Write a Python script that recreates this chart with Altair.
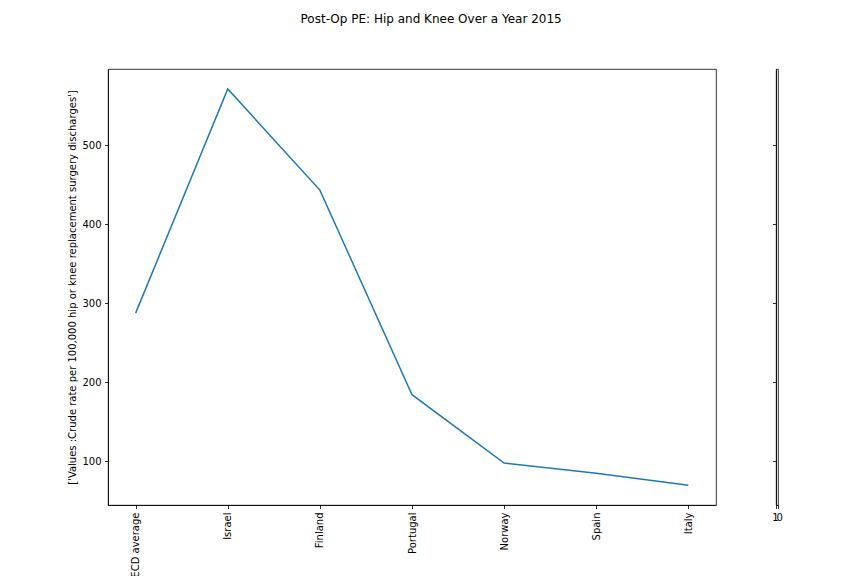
import altair as alt
import pandas as pd

countries = ["OECD average", "Israel", "Finland", "Portugal", "Norway", "Spain", "Italy"]
values = [287.3, 571.0, 443.0, 184.0, 97.5, 84.5, 69.5]
y_ticks = [100, 200, 300, 400, 500]
y_domain = [44.4, 596.3]
side_x_ticks = [0, 1]

df = pd.DataFrame({"country": countries, "value": values})
side = pd.DataFrame({"x": side_x_ticks, "y": y_domain})

FONT = "DejaVu Sans"
ytitle = "['Values :Crude rate per 100,000 hip or knee replacement surgery discharges']"

main = alt.Chart(df).mark_line(color="#1f77b4", strokeWidth=1.5).encode(
    x=alt.X("country:N", sort=None, title=None,
            scale=alt.Scale(type="point", padding=0.3),
            axis=alt.Axis(labelAngle=270, labelFontSize=10, labelColor="#000",
                          tickSize=3.5, tickColor="#000", tickWidth=0.8,
                          domainColor="#000", domainWidth=0.8, labelPadding=3.5,
                          grid=False)),
    y=alt.Y("value:Q", title=ytitle,
            scale=alt.Scale(domain=y_domain, nice=False, zero=False),
            axis=alt.Axis(values=y_ticks, labelFontSize=10, labelColor="#000",
                          tickSize=3.5, tickColor="#000", tickWidth=0.8,
                          domainColor="#000", domainWidth=0.8, labelPadding=3.5,
                          titleFontSize=10, titleFontWeight="normal", titleColor="#000",
                          titlePadding=4, grid=False)),
).properties(width=608, height=436)

side_chart = alt.Chart(side).mark_point(opacity=0).encode(
    x=alt.X("x:Q", title=None,
            scale=alt.Scale(domain=[0, 1], nice=False),
            axis=alt.Axis(values=side_x_ticks, format="d", labelAngle=0, labelOverlap=False,
                          labelFontSize=10, labelColor="#000", tickSize=3.5,
                          tickColor="#000", tickWidth=0.8, domainColor="#000",
                          domainWidth=0.8, labelPadding=3.5, grid=False)),
    y=alt.Y("y:Q", title=None,
            scale=alt.Scale(domain=y_domain, nice=False, zero=False),
            axis=alt.Axis(values=y_ticks, labels=False, tickSize=3.5, tickColor="#000",
                          tickWidth=0.8, domainColor="#000", domainWidth=0.8, grid=False)),
).properties(width=2, height=436)

chart = alt.hconcat(main, side_chart, spacing=54).properties(
    title=alt.TitleParams("Post-Op PE: Hip and Knee Over a Year 2015", fontSize=12,
                          fontWeight="normal", color="#000", font=FONT,
                          anchor="middle", offset=40, dx=6),
    padding={"left": 59, "top": 4, "right": 10, "bottom": 0},
).configure(font=FONT).configure_view(stroke="#000", strokeWidth=0.8).configure_axis(
    labelFont=FONT, titleFont=FONT)

chart.save("out.html", embed_options={"renderer": "svg", "actions": False})
